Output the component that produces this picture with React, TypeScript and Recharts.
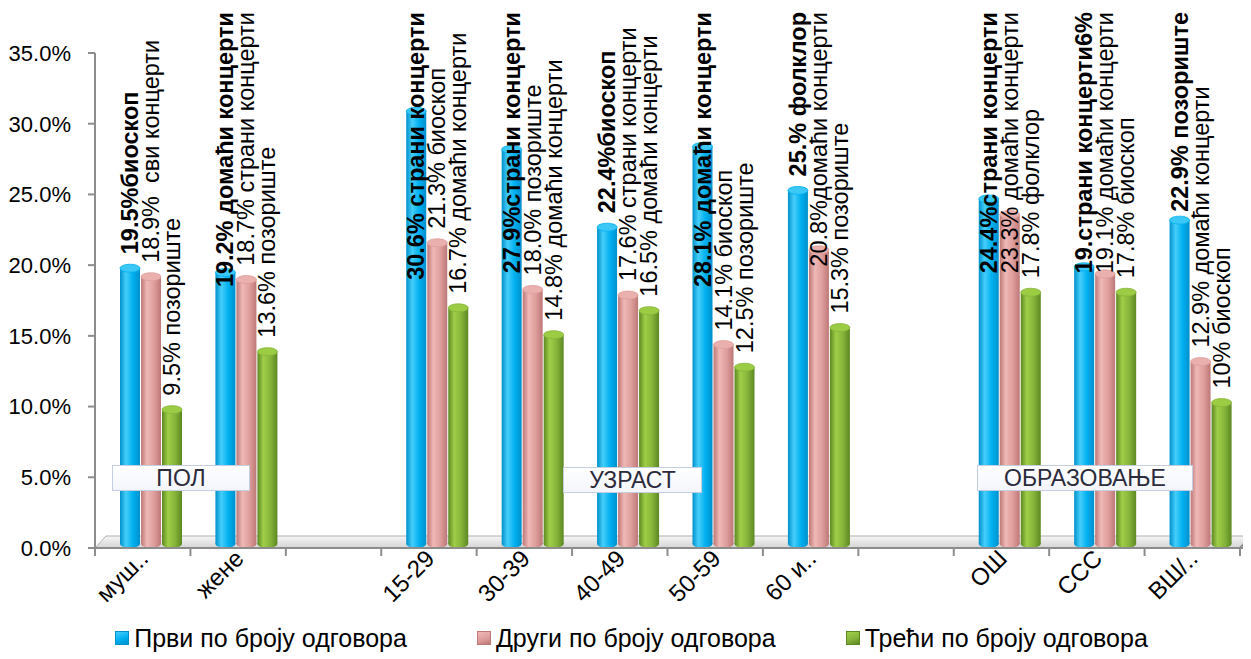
import React from "react";
import { BarChart, Bar, XAxis, YAxis, Legend, LabelList } from "recharts";

const categories = ["муш..", "жене", "", "15-29", "30-39", "40-49", "50-59", "60 и..", " ", "ОШ", "ССС", "ВШ/.."];

const firstValues = [19.5, 19.2, null, 30.6, 27.9, 22.4, 28.1, 25.0, null, 24.4, 19.6, 22.9];
const secondValues = [18.9, 18.7, null, 21.3, 18.0, 17.6, 14.1, 20.8, null, 23.3, 19.1, 12.9];
const thirdValues = [9.5, 13.6, null, 16.7, 14.8, 16.5, 12.5, 15.3, null, 17.8, 17.8, 10.0];

const firstLabels = ["19.5%биоскоп", "19.2% домаћи концерти", "", "30.6% страни концерти", "27.9%страни концерти", "22.4%биоскоп", "28.1% домаћи концерти", "25.% фолклор", "", "24.4%страни концерти", "19.страни концерти6%", "22.9% позориште"];
const secondLabels = ["18.9%  сви концерти", "18.7% страни концерти", "", "21.3% биоскоп", "18.0% позориште", "17.6% страни концерти", "14.1% биоскоп", "20.8%домаћи концерти", "", "23.3% домаћи концерти", "19.1% домаћи концерти", "12.9% домаћи концерти"];
const thirdLabels = ["9.5% позориште", "13.6% позориште", "", "16.7% домаћи концерти", "14.8% домаћи концерти", "16.5% домаћи концерти", "12.5% позориште", "15.3% позориште", "", "17.8% фолклор", "17.8% биоскоп", "10% биоскоп"];

const seriesNames = ["Први по броју одговора", "Други по броју одговора", "Трећи по броју одговора"];
const yTicks = [0, 5, 10, 15, 20, 25, 30, 35];

const data = categories.map((name, i) => ({
  name,
  first: firstValues[i],
  second: secondValues[i],
  third: thirdValues[i],
  firstLabel: firstLabels[i],
  secondLabel: secondLabels[i],
  thirdLabel: thirdLabels[i],
}));

const FONT = '"Liberation Sans", Arial, sans-serif';
const LABEL_SIZE = 23.5;

const palette = [
  { key: "b", base: "#00B0F0", dark: "#0090CC", light: "#45CEFA", top: "#3CC8F6" },
  { key: "p", base: "#DE9E9C", dark: "#BC7876", light: "#EFB8B6", top: "#EAB0AE" },
  { key: "g", base: "#86B43A", dark: "#5C8822", light: "#A0CE48", top: "#9CCB44" },
];

const LIFT = 4;
const TOP_LIMIT = 4;

let ctx: CanvasRenderingContext2D | null = null;
function textWidth(s: string, bold: boolean) {
  if (!ctx) ctx = document.createElement("canvas").getContext("2d");
  if (!ctx) return s.length * 13;
  ctx.font = `${bold ? "bold " : ""}${LABEL_SIZE}px ${FONT}`;
  return ctx.measureText(s).width;
}

function makeCylinder(c: any) {
  return (props: any) => {
    const { x, y, width, height } = props;
    if (!height || height <= 0) return null;
    const id = `cyl-${c.key}-${Math.round(x)}`;
    const yy = y - LIFT;
    const ry = 4;
    return (
      <g>
        <defs>
          <linearGradient id={id} x1="0" x2="1" y1="0" y2="0">
            <stop offset="0%" stopColor={c.dark} />
            <stop offset="30%" stopColor={c.light} />
            <stop offset="65%" stopColor={c.base} />
            <stop offset="100%" stopColor={c.dark} />
          </linearGradient>
        </defs>
        <ellipse cx={x + width / 2} cy={yy + height} rx={width / 2} ry={ry} fill={`url(#${id})`} />
        <rect x={x} y={yy} width={width} height={height} fill={`url(#${id})`} />
        <ellipse cx={x + width / 2} cy={yy} rx={width / 2} ry={ry} fill={c.top} stroke={c.base} strokeWidth={0.8} />
      </g>
    );
  };
}

function makeLabel(bold: boolean) {
  return (props: any) => {
    const { x, y, width, value } = props;
    const s = value as string;
    if (!s) return null;
    const len = textWidth(s, bold);
    const bottom = Math.max(y - LIFT - 14, TOP_LIMIT + len);
    const cx = x + width / 2;
    return (
      <text
        transform={`translate(${cx},${bottom}) rotate(-90)`}
        dominantBaseline="central"
        fontFamily={FONT}
        fontSize={LABEL_SIZE}
        fontWeight={bold ? "bold" : "normal"}
        fill="#000"
        style={{ whiteSpace: "pre" }}
      >
        {s}
      </text>
    );
  };
}

const HALF = 95.4 / 2;

function XTick(props: any) {
  const { x, y, payload, index } = props;
  return (
    <g>
      <line x1={x - HALF - 8} x2={x - HALF - 8} y1={y - 8} y2={y} stroke="#8c8c8c" strokeWidth={2} />
      {index === categories.length - 1 && (
        <line x1={x + HALF - 8} x2={x + HALF - 8} y1={y - 8} y2={y} stroke="#8c8c8c" strokeWidth={2} />
      )}
      <text
        transform={`translate(${x - 1},${y + 4}) rotate(-45)`}
        textAnchor="end"
        fontFamily={FONT}
        fontSize={24}
        fill="#000"
      >
        {payload.value}
      </text>
    </g>
  );
}

function LegendContent() {
  return (
    <div style={{ display: "flex", justifyContent: "center", gap: 70, fontFamily: FONT, fontSize: 25, height: 30, alignItems: "center" }}>
      {seriesNames.map((n, i) => (
        <div key={n} style={{ display: "flex", alignItems: "center", gap: 5 }}>
          <span
            style={{
              width: 14,
              height: 14,
              display: "inline-block",
              boxSizing: "border-box",
              background: `linear-gradient(160deg, ${palette[i].light}, ${palette[i].base} 55%, ${palette[i].dark})`,
              border: `1px solid ${palette[i].dark}`,
            }}
          />
          <span style={{ color: "#000" }}>{n}</span>
        </div>
      ))}
    </div>
  );
}

const groupBoxes = [
  { text: "ПОЛ", left: 104, top: 457, width: 138 },
  { text: "УЗРАСТ", left: 555, top: 459, width: 139 },
  { text: "ОБРАЗОВАЊЕ", left: 969, top: 457, width: 216 },
];

export default function App() {
  return (
    <div style={{ position: "relative", width: 1243, height: 645 }}>
      <svg width={1243} height={645} style={{ position: "absolute", left: 0, top: 0 }}>
        <defs>
          <linearGradient id="floor" x1="0" x2="0" y1="0" y2="1">
            <stop offset="0%" stopColor="#f6f6f6" />
            <stop offset="100%" stopColor="#d4d4d4" />
          </linearGradient>
        </defs>
        <polygon points="87,540 1232,540 1243,528 98,528" fill="url(#floor)" stroke="#b0b0b0" strokeWidth={1} />
        <line x1={1232} y1={540} x2={1243} y2={528} stroke="#8c8c8c" strokeWidth={2} />
      </svg>
      <div style={{ position: "absolute", left: 0, top: 0 }}>
        <BarChart width={1243} height={645} data={data} margin={{ top: 45, right: 3, left: 7, bottom: 0 }} barSize={20} barGap={1}>
          <YAxis
            width={80}
            domain={[0, 35]}
            ticks={yTicks}
            tickFormatter={(v: number) => `${v.toFixed(1)}%`}
            axisLine={{ stroke: "#8c8c8c", strokeWidth: 2 }}
            tickLine={{ stroke: "#8c8c8c", strokeWidth: 2 }}
            tickSize={7}
            tickMargin={17}
            tick={{ fontFamily: FONT, fontSize: 22, fill: "#000" }}
          />
          <XAxis
            dataKey="name"
            interval={0}
            height={75}
            padding={{ left: 8, right: 0 }}
            axisLine={{ stroke: "#8c8c8c", strokeWidth: 2 }}
            tickLine={false}
            tick={<XTick />}
          />
          <Legend verticalAlign="bottom" height={30} content={<LegendContent />} />
          <Bar dataKey="first" name={seriesNames[0]} fill={palette[0].base} shape={makeCylinder(palette[0])} isAnimationActive={false}>
            <LabelList dataKey="firstLabel" content={makeLabel(true)} />
          </Bar>
          <Bar dataKey="second" name={seriesNames[1]} fill={palette[1].base} shape={makeCylinder(palette[1])} isAnimationActive={false}>
            <LabelList dataKey="secondLabel" content={makeLabel(false)} />
          </Bar>
          <Bar dataKey="third" name={seriesNames[2]} fill={palette[2].base} shape={makeCylinder(palette[2])} isAnimationActive={false}>
            <LabelList dataKey="thirdLabel" content={makeLabel(false)} />
          </Bar>
        </BarChart>
      </div>
      {groupBoxes.map((b) => (
        <div
          key={b.text}
          style={{
            position: "absolute",
            left: b.left,
            top: b.top,
            width: b.width,
            height: 26,
            boxSizing: "border-box",
            background: "linear-gradient(#ffffff, #f3f5fb)",
            border: "1.5px solid #c5cde3",
            fontFamily: FONT,
            fontSize: 23,
            color: "#2b2b3b",
            textAlign: "center",
            lineHeight: "24px",
          }}
        >
          {b.text}
        </div>
      ))}
    </div>
  );
}
